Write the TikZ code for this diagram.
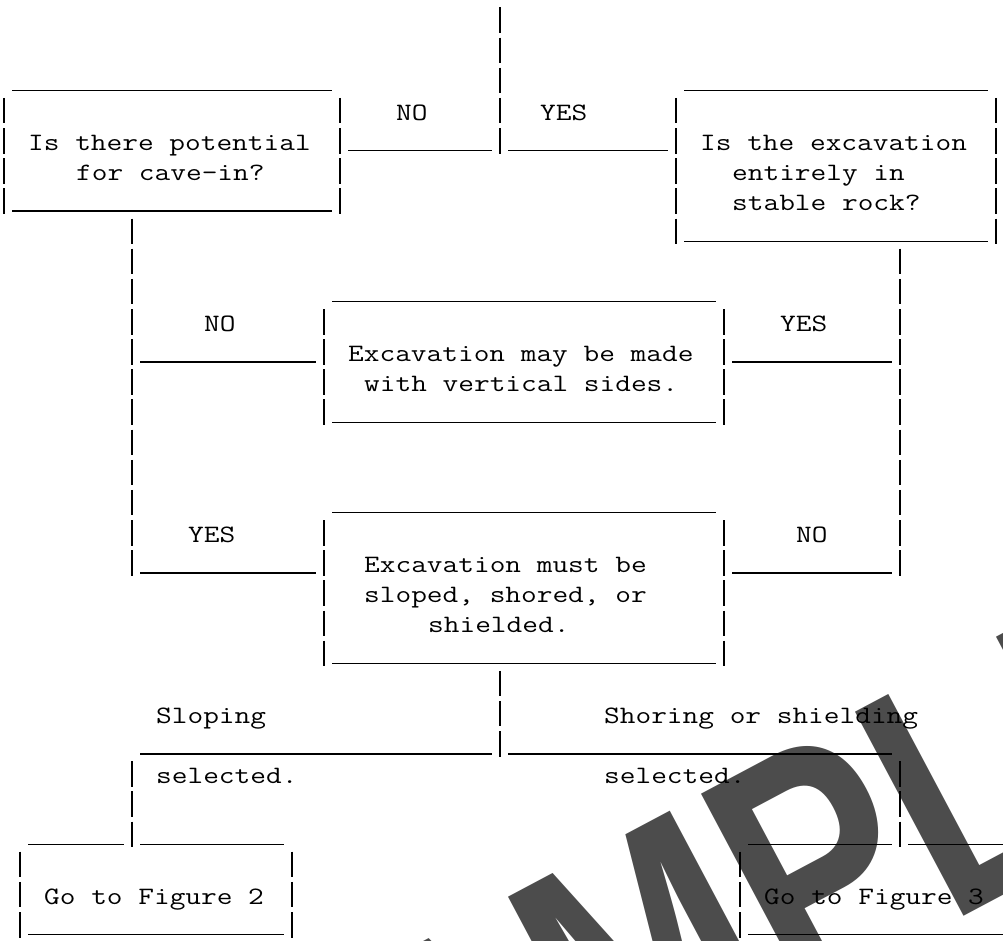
\documentclass[tikz,border=0pt]{standalone}
\usepackage{fontspec}
\usepackage{graphicx}
\newfontfamily\wmfont{Liberation Sans}
\tikzset{
  rule/.style={line width=1.3pt, line cap=butt},
  bar/.style={line width=1.3pt, dash pattern=on 25.5pt off 4.65pt},
  txt/.style={anchor=base west, inner sep=0pt, font=\fontsize{25}{25}\selectfont\ttfamily},
  watermark/.style={anchor=base west, inner sep=0pt, rotate=28, text=black!70, font=\fontsize{336}{336}\selectfont\wmfont\bfseries},
}
% column c centre: 4+16c ; row r centre: 22.25+30.15r
\newcommand\ulrun[3]{\draw[rule] ({16*#2-4},{22.25+30.15*#1+8}) -- ({16*#3+12},{22.25+30.15*#1+8});}
\newcommand\piperun[3]{\draw[bar] ({4+16*#1},{22.25+30.15*#2-14.75}) -- ({4+16*#1},{22.25+30.15*#3+10.75});}
\newcommand\txtat[4]{\node[txt] (#1) at ({16*#2-4},{22.25+30.15*#3+7.4}) {\scalebox{1.219}[1]{#4}};}
\begin{document}
\begin{tikzpicture}[x=1pt,y=-1pt]
\useasboundingbox (0,0) rectangle (1003,941);
\fill[white] (0,0) rectangle (1003,941);
\clip (0,0) rectangle (1003,941);
% watermark
\node[watermark] (wm) at (279.7,1280) {\scalebox{0.78}[1]{SAMPLE}};
% texts
\txtat{no1}{25}{3}{NO}
\txtat{yes1}{34}{3}{YES}
\txtat{qa}{2}{4}{Is there potential}
\txtat{qa2}{5}{5}{for cave-in?}
\txtat{qb}{44}{4}{Is the excavation}
\txtat{qb2}{46}{5}{entirely in}
\txtat{qb3}{46}{6}{stable rock?}
\txtat{no2}{13}{10}{NO}
\txtat{yes2}{49}{10}{YES}
\txtat{ra}{22}{11}{Excavation may be made}
\txtat{ra2}{23}{12}{with vertical sides.}
\txtat{yes3}{12}{17}{YES}
\txtat{no3}{50}{17}{NO}
\txtat{rb}{23}{18}{Excavation must be}
\txtat{rb2}{23}{19}{sloped, shored, or}
\txtat{rb3}{27}{20}{shielded.}
\txtat{sl}{10}{23}{Sloping}
\txtat{sl2}{10}{25}{selected.}
\txtat{sh}{38}{23}{Shoring or shielding}
\txtat{sh2}{38}{25}{selected.}
\txtat{fa}{3}{29}{Go to Figure 2}
\txtat{fb}{48}{29}{Go to Figure 3}
% underscores: row, first col, last col
\ulrun{2}{1}{20}
\ulrun{2}{43}{61}
\ulrun{4}{22}{30}
\ulrun{4}{32}{41}
\ulrun{6}{1}{20}
\ulrun{7}{43}{61}
\ulrun{9}{21}{44}
\ulrun{11}{9}{19}
\ulrun{11}{46}{55}
\ulrun{13}{21}{44}
\ulrun{16}{21}{44}
\ulrun{18}{9}{19}
\ulrun{18}{46}{55}
\ulrun{21}{21}{44}
\ulrun{24}{9}{30}
\ulrun{24}{32}{55}
\ulrun{27}{2}{7}
\ulrun{27}{9}{17}
\ulrun{27}{47}{55}
\ulrun{27}{57}{62}
\ulrun{30}{2}{17}
\ulrun{30}{47}{62}
% pipes: col, first row, last row
\piperun{31}{0}{4}
\piperun{0}{3}{6}
\piperun{21}{3}{6}
\piperun{42}{3}{7}
\piperun{62}{3}{7}
\piperun{8}{7}{18}
\piperun{56}{8}{18}
\piperun{20}{10}{13}
\piperun{45}{10}{13}
\piperun{20}{17}{21}
\piperun{45}{17}{21}
\piperun{31}{22}{24}
\piperun{8}{25}{27}
\piperun{56}{25}{27}
\piperun{1}{28}{30}
\piperun{18}{28}{30}
\piperun{46}{28}{30}
\end{tikzpicture}
\end{document}
